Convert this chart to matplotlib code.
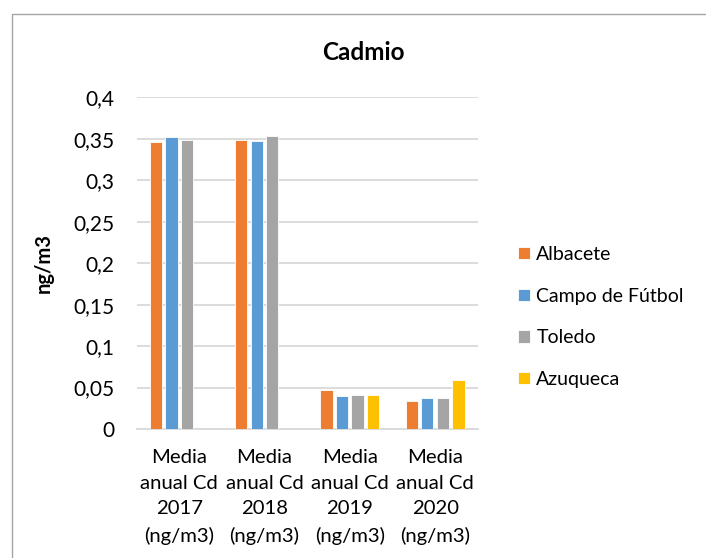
import numpy as np
import matplotlib.pyplot as plt
from matplotlib.lines import Line2D

plt.rcParams['font.family'] = ['Lato', 'DejaVu Sans']

# data
categories = ['Media\nanual Cd\n2017\n(ng/m3)', 'Media\nanual Cd\n2018\n(ng/m3)',
              'Media\nanual Cd\n2019\n(ng/m3)', 'Media\nanual Cd\n2020\n(ng/m3)']
albacete = [0.3466, 0.3485, 0.0466, 0.0338]
campo = [0.3526, 0.3477, 0.0402, 0.0370]
toledo = [0.3490, 0.3534, 0.0414, 0.0374]
azuqueca = [np.nan, np.nan, 0.0414, 0.0587]
series_names = ['Albacete', 'Campo de Fútbol', 'Toledo', 'Azuqueca']
colors = ['#ED7D31', '#5B9BD5', '#A5A5A5', '#FFC000']
yticks = [0, 0.05, 0.1, 0.15, 0.2, 0.25, 0.3, 0.35, 0.4]

fig = plt.figure(figsize=(7.06, 5.58), dpi=100)
ax = fig.add_axes([0.1936, 0.2312, 0.483, 0.5944])

# chart border (only left and top edges are visible in the crop)
bx, by = 11.5/706, 1 - 13.5/558
fig.lines.append(Line2D([bx, bx, 1.0], [0.0, by, by], transform=fig.transFigure,
                        color='#A6A6A6', linewidth=1))

x = np.arange(len(categories))
step = 0.182
width = 0.145
all_series = [albacete, campo, toledo, azuqueca]
for i, vals in enumerate(all_series):
    ax.bar(x + (i - 1.5) * step, vals, width, color=colors[i], label=series_names[i],
           edgecolor='white', linewidth=0.6, zorder=3)

ax.set_xlim(-0.5, len(categories) - 0.5)
ax.set_ylim(0, 0.4)
ax.set_yticks(yticks)
ax.set_yticklabels([('%g' % v).replace('.', ',') for v in yticks], fontsize=15)
ax.set_xticks(x)
ax.set_xticklabels(categories, linespacing=1.62, fontsize=14.6)
ax.grid(axis='y', color='#D9D9D9', linewidth=1.3, zorder=0)
for s in ['top', 'right', 'left']:
    ax.spines[s].set_visible(False)
ax.spines['bottom'].set_color('#D9D9D9')
ax.spines['bottom'].set_linewidth(1.3)
ax.tick_params(axis='x', length=0, pad=14.5)
ax.tick_params(axis='y', length=0, pad=16)

ax.set_ylabel('ng/m3', fontsize=14.5, fontweight='bold', labelpad=14)
fig.text(363/706, 1 - 53/558, 'Cadmio', ha='center', va='center', fontsize=17.5, fontweight='bold')

leg = fig.legend(loc='center left', bbox_to_anchor=(500/706, 1 - 317/558), frameon=False,
                 fontsize=14, handlelength=0.62, handleheight=0.62, handletextpad=0.35,
                 labelspacing=1.27)

fig.savefig('out.png', dpi=100)
